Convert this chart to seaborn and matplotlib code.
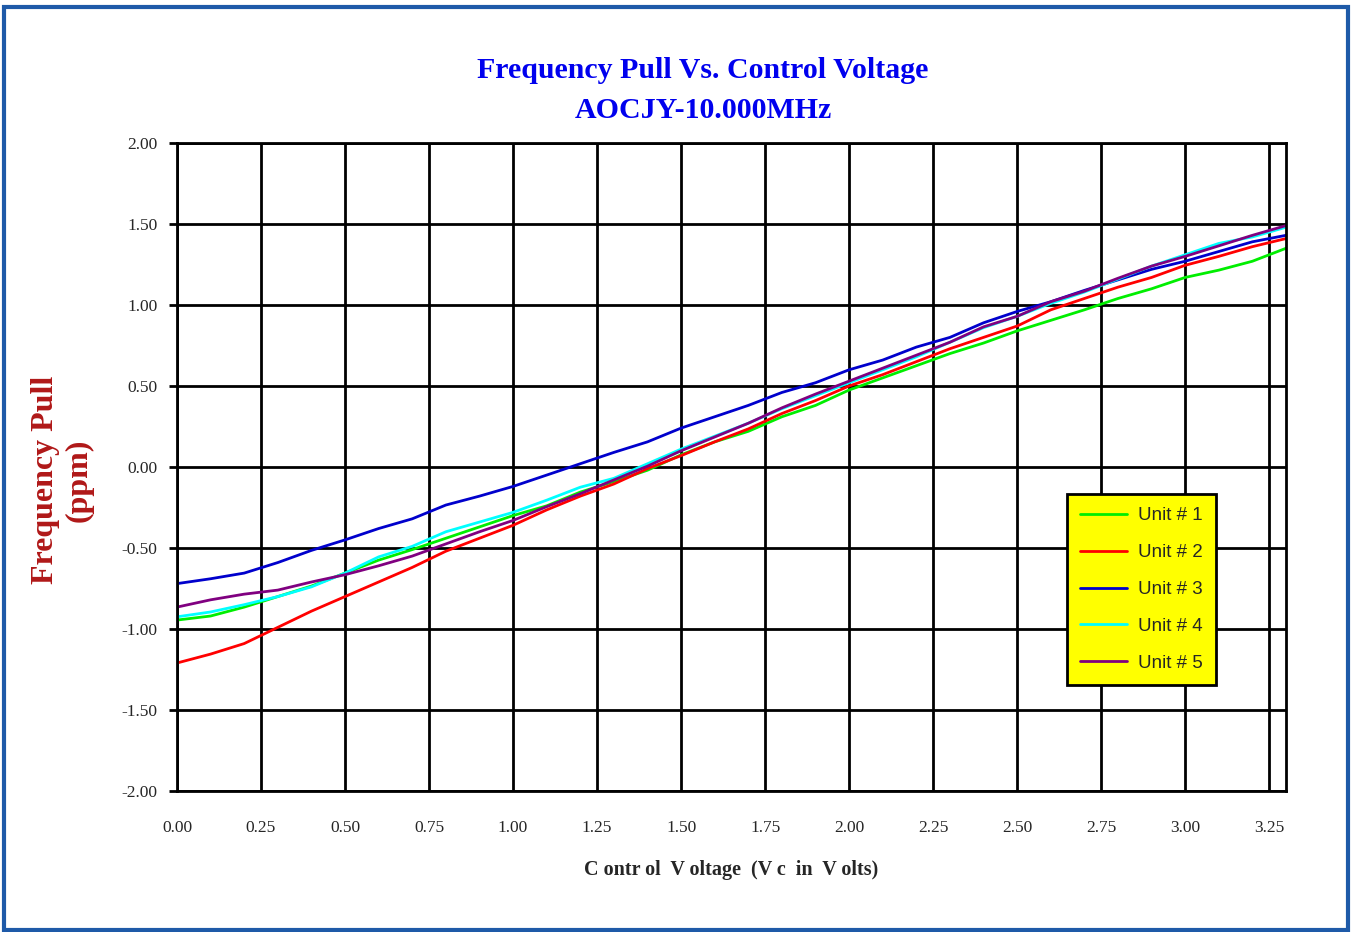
import matplotlib
matplotlib.use("Agg")
import matplotlib.pyplot as plt
import pandas as pd
import seaborn as sns
from matplotlib.patches import Rectangle

sns.set_theme(style="white")
plt.rcParams["font.family"] = ["Liberation Serif", "DejaVu Serif"]

# control voltage (V)
volts = [0.0, 0.1, 0.2, 0.3, 0.4, 0.5, 0.6, 0.7, 0.8, 0.9, 1.0,
         1.1, 1.2, 1.3, 1.4, 1.5, 1.6, 1.7, 1.8, 1.9, 2.0,
         2.1, 2.2, 2.3, 2.4, 2.5, 2.6, 2.7, 2.8, 2.9, 3.0,
         3.1, 3.2, 3.3]

unit1 = [-0.945, -0.92, -0.865, -0.80, -0.735, -0.655, -0.575, -0.51, -0.44, -0.37, -0.30,
         -0.24, -0.155, -0.09, -0.02, 0.075, 0.155, 0.22, 0.31, 0.38, 0.475,
         0.55, 0.625, 0.70, 0.765, 0.84, 0.905, 0.97, 1.04, 1.10, 1.17,
         1.215, 1.27, 1.35]
unit2 = [-1.21, -1.155, -1.09, -0.99, -0.89, -0.80, -0.71, -0.62, -0.52, -0.44, -0.36,
         -0.265, -0.18, -0.105, -0.01, 0.07, 0.155, 0.235, 0.33, 0.41, 0.50,
         0.57, 0.65, 0.73, 0.80, 0.87, 0.97, 1.04, 1.11, 1.17, 1.245,
         1.30, 1.36, 1.41]
unit3 = [-0.72, -0.69, -0.655, -0.59, -0.515, -0.45, -0.38, -0.32, -0.235, -0.18, -0.12,
         -0.05, 0.02, 0.09, 0.155, 0.24, 0.31, 0.38, 0.46, 0.52, 0.60,
         0.66, 0.74, 0.80, 0.89, 0.96, 1.02, 1.09, 1.155, 1.22, 1.27,
         1.33, 1.39, 1.43]
unit4 = [-0.925, -0.895, -0.85, -0.80, -0.74, -0.655, -0.555, -0.49, -0.40, -0.34, -0.28,
         -0.205, -0.125, -0.07, 0.02, 0.11, 0.19, 0.27, 0.36, 0.44, 0.52,
         0.60, 0.68, 0.77, 0.86, 0.93, 1.01, 1.08, 1.16, 1.24, 1.31,
         1.38, 1.42, 1.48]
unit5 = [-0.865, -0.82, -0.785, -0.76, -0.71, -0.665, -0.61, -0.55, -0.475, -0.40, -0.33,
         -0.245, -0.165, -0.08, 0.005, 0.10, 0.185, 0.27, 0.365, 0.45, 0.53,
         0.61, 0.69, 0.77, 0.865, 0.93, 1.02, 1.085, 1.165, 1.24, 1.30,
         1.365, 1.43, 1.49]

units = ["Unit # 1", "Unit # 2", "Unit # 3", "Unit # 4", "Unit # 5"]
colors = ["#00ee00", "#ff0000", "#0000cc", "#00ffff", "#800080"]

x_ticks = [0.0, 0.25, 0.5, 0.75, 1.0, 1.25, 1.5, 1.75, 2.0, 2.25, 2.5, 2.75, 3.0, 3.25]
y_ticks = [-2.0, -1.5, -1.0, -0.5, 0.0, 0.5, 1.0, 1.5, 2.0]

df = pd.DataFrame({"volts": volts, units[0]: unit1, units[1]: unit2,
                   units[2]: unit3, units[3]: unit4, units[4]: unit5})
long = df.melt(id_vars="volts", var_name="unit", value_name="pull")

fig = plt.figure(figsize=(13.52, 9.32), dpi=100)
ax = fig.add_axes([0.1309, 0.1513, 0.8203, 0.6953])

# unit 5 last so the purple sits on top of the cyan
sns.lineplot(data=long, x="volts", y="pull", hue="unit", hue_order=units,
             palette=dict(zip(units, colors)), linewidth=2, ax=ax,
             estimator=None, sort=False)

ax.set_xlim(0, 3.3)
ax.set_ylim(-2, 2)
ax.set_xticks(x_ticks)
ax.set_yticks(y_ticks)
ax.set_xticklabels([f"{v:.2f}" for v in x_ticks], fontsize=12.5)
ax.set_yticklabels([f"{v:.2f}" for v in y_ticks], fontsize=12.5)
ax.grid(True, color="black", linewidth=2)
ax.set_axisbelow(True)
for s in ax.spines.values():
    s.set_color("black")
    s.set_linewidth(2)
ax.tick_params(axis="y", length=6, width=2, color="black", pad=8, direction="out", left=True)
ax.tick_params(axis="x", length=0, pad=21)

ax.set_xlabel("C ontr ol  V oltage  (V c  in  V olts)", fontsize=14.5, fontweight="bold",
              labelpad=17)
ax.set_ylabel("")

fig.text(0.52, 0.9245, "Frequency Pull Vs. Control Voltage", ha="center", va="center",
         fontsize=21.5, fontweight="bold", color="#0000ee")
fig.text(0.52, 0.8815, "AOCJY-10.000MHz", ha="center", va="center",
         fontsize=21.5, fontweight="bold", color="#0000ee")
fig.text(0.046, 0.485, "Frequency Pull\n(ppm)", rotation=90, ha="center", va="center",
         fontsize=23, fontweight="bold", color="#b01818", linespacing=1.2)

leg = ax.legend(loc="upper left", bbox_to_anchor=(0.8025, 0.458), frameon=True,
                facecolor="#ffff00", edgecolor="black", fancybox=False, framealpha=1,
                prop={"family": "Liberation Sans", "size": 13.5}, handlelength=2.5,
                labelspacing=1.05, borderpad=0.7, handletextpad=0.6, borderaxespad=0)
leg.get_frame().set_linewidth(2)
for line in leg.get_lines():
    line.set_linewidth(2)

fig.patches.append(Rectangle((0.003, 0.002), 0.994, 0.991, transform=fig.transFigure,
                             fill=False, edgecolor="#1e5aa8", linewidth=3))

fig.savefig("out.png", dpi=100)
